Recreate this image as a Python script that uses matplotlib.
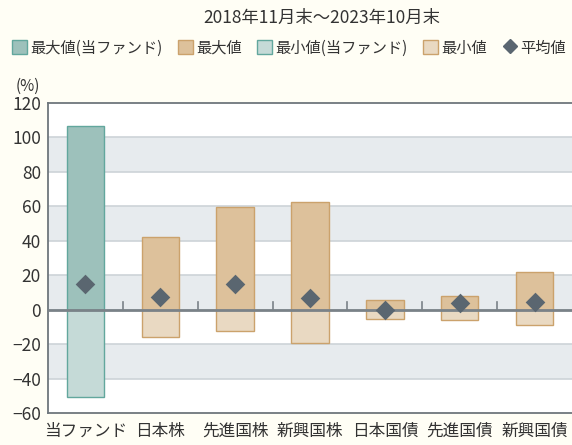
import numpy as np
import matplotlib.pyplot as plt
from matplotlib.patches import Patch
from matplotlib.lines import Line2D

plt.rcParams['font.family'] = ['Noto Sans CJK JP', 'DejaVu Sans']

categories = ['当ファンド', '日本株', '先進国株', '新興国株', '日本国債', '先進国債', '新興国債']
max_vals = [106.8, 42.2, 59.9, 62.8, 5.6, 8.0, 21.7]
min_vals = [-50.6, -15.8, -12.3, -19.4, -5.4, -6.0, -8.9]
avg_vals = [15.0, 7.4, 15.1, 6.5, -0.4, 3.6, 4.4]

bg = '#FFFEF5'
teal_max, teal_min, teal_edge = '#9DC1BB', '#C5DAD7', '#62A79D'
tan_max, tan_min, tan_edge = '#DDC19B', '#E9D9C2', '#CBA26C'
dot = '#5A6670'

fig = plt.figure(figsize=(5.72, 4.45), dpi=100, facecolor=bg)
ax = fig.add_axes([48 / 572, 32 / 445, 1 - 48 / 572, 310 / 445])
ax.set_facecolor('white')

x = np.arange(len(categories))
ax.set_xlim(-0.5, len(categories) - 0.5)
ax.set_ylim(-60, 120)

# alternating grey bands
for lo in [80, 40, 0, -40]:
    ax.axhspan(lo, lo + 20, color='#E7EBEE', zorder=0, lw=0)
for yv in range(-40, 120, 20):
    ax.axhline(yv, color='#CDD3D8', lw=1.2, zorder=0.5)

maxc = [teal_max] + [tan_max] * 6
minc = [teal_min] + [tan_min] * 6
edgec = [teal_edge] + [tan_edge] * 6
ax.bar(x, max_vals, width=0.5, color=maxc, edgecolor=edgec, lw=1.0, zorder=2)
ax.bar(x, min_vals, width=0.5, color=minc, edgecolor=edgec, lw=1.0, zorder=2)
ax.axhline(0, color='#7A8288', lw=2, zorder=3)
for xv in x[:-1] + 0.5:
    ax.plot([xv, xv], [0, 4.5], color='#7A8288', lw=1.2, zorder=3)
ax.scatter(x, avg_vals, marker='D', s=100, color=dot, zorder=4, lw=0)

ax.set_xticks(x)
ax.set_xticklabels(categories, fontsize=12, color='#333333')
ax.tick_params(axis='x', length=0, pad=7)
ax.set_yticks(range(-60, 121, 20))
ax.tick_params(axis='y', length=0, pad=5, labelsize=12.5, labelcolor='#333333')
for s in ['left', 'bottom', 'top']:
    ax.spines[s].set_color('#6E767C')
    ax.spines[s].set_linewidth(1.3)
ax.spines['right'].set_visible(False)

fig.text(28 / 572, 1 - 86 / 445, '(%)', ha='center', va='center', fontsize=11, color='#333333')
fig.text(322 / 572, 1 - 18 / 445, '2018年11月末～2023年10月末', ha='center', va='center',
         fontsize=12.5, color='#333333')

handles = [Patch(facecolor=teal_max, edgecolor=teal_edge),
           Patch(facecolor=tan_max, edgecolor=tan_edge),
           Patch(facecolor=teal_min, edgecolor=teal_edge),
           Patch(facecolor=tan_min, edgecolor=tan_edge),
           Line2D([], [], marker='D', ls='', color=dot, markersize=7)]
labels = ['最大値(当ファンド)', '最大値', '最小値(当ファンド)', '最小値', '平均値']
fig.legend(handles, labels, loc='center', bbox_to_anchor=(289 / 572, 1 - 48 / 445), ncol=5,
           frameon=False, fontsize=11, handlelength=1.0, handleheight=1.0,
           handletextpad=0.2, columnspacing=1.0, labelcolor='#333333')

fig.savefig('out.png', dpi=100, facecolor=bg)
